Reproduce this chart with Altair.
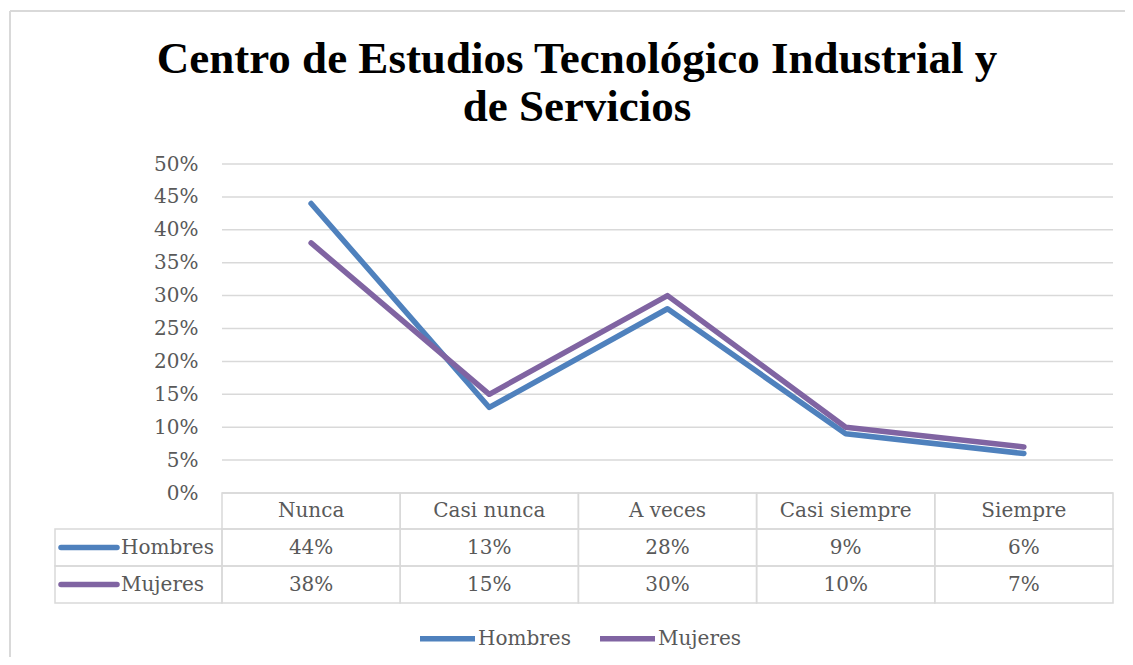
import altair as alt
import pandas as pd

# ---------------- data ----------------
categories = ["Nunca", "Casi nunca", "A veces", "Casi siempre", "Siempre"]
series = ["Hombres", "Mujeres"]
hombres = [0.44, 0.13, 0.28, 0.09, 0.06]
mujeres = [0.38, 0.15, 0.30, 0.10, 0.07]
y_ticks = [0.0, 0.05, 0.10, 0.15, 0.20, 0.25, 0.30, 0.35, 0.40, 0.45, 0.50]
colors = ["#4F81BD", "#8064A2"]
title_lines = ["Centro de Estudios Tecnológico Industrial y", "de Servicios"]

# ---------------- layout ----------------
COL_W = 178.2          # px per category column
LABEL_W = 167          # px of the table's label column
LINE_H = 329           # px of the 0..50% area
ROW_H = [36, 37, 37]   # px of table rows
TABLE_H = sum(ROW_H)
PLOT_W = 5 * COL_W + LABEL_W
PX = LINE_H / 0.5      # px per unit of y
x0 = -LABEL_W / COL_W
ymin = -TABLE_H / PX
TXT = "#595959"
GRID = "#D9D9D9"
FONT = "DejaVu Serif"

row_edges = [0.0]
for h in ROW_H:
    row_edges.append(row_edges[-1] - h / PX)
row_mid = [(row_edges[k] + row_edges[k + 1]) / 2 for k in range(3)]

values = {"Hombres": hombres, "Mujeres": mujeres}

lines_df = pd.DataFrame([
    {"series": s, "cat": c, "x": i + 0.5, "y": values[s][i]}
    for s in series for i, c in enumerate(categories)
])
grid_df = pd.DataFrame({"y": y_ticks, "x": [0] * len(y_ticks), "x2": [5] * len(y_ticks)})

cells = []
for i in range(5):
    cells.append({"x": i, "x2": i + 1, "y": row_edges[0], "y2": row_edges[1]})
for k, s in enumerate(series):
    r = k + 1
    cells.append({"x": x0, "x2": 0, "y": row_edges[r], "y2": row_edges[r + 1]})
    for i in range(5):
        cells.append({"x": i, "x2": i + 1, "y": row_edges[r], "y2": row_edges[r + 1]})
cells_df = pd.DataFrame(cells)

texts = []
for i, c in enumerate(categories):
    texts.append({"x": i + 0.5, "y": row_mid[0], "t": c})
for k, s in enumerate(series):
    for i in range(5):
        texts.append({"x": i + 0.5, "y": row_mid[k + 1], "t": f"{round(values[s][i] * 100)}%"})
texts_df = pd.DataFrame(texts)

labels_df = pd.DataFrame([
    {"series": s, "y": row_mid[k + 1], "xi": x0 + 6 / COL_W, "xi2": x0 + 62 / COL_W,
     "xt": x0 + 66 / COL_W}
    for k, s in enumerate(series)
])

xs = alt.Scale(domain=[x0, 5], nice=False, zero=False)
ys = alt.Scale(domain=[ymin, 0.5], nice=False, zero=False)
cs = alt.Scale(domain=series, range=colors)

y_axis = alt.Axis(
    values=y_ticks, format=".0%", grid=False, domain=False, ticks=False,
    labelPadding=24, offset=-LABEL_W, title=None,
    labelFont=FONT, labelFontSize=20, labelColor=TXT)
legend = alt.Legend(
    title=None, orient="none", legendX=362, legendY=444, direction="horizontal",
    symbolType="stroke", symbolSize=3025, symbolStrokeWidth=5.5,
    labelFont=FONT, labelFontSize=20, labelColor=TXT, labelOffset=0,
    columnPadding=18, padding=0)


def X(f):
    return alt.X(f, scale=xs, axis=None)


def Y(f):
    return alt.Y(f, scale=ys, axis=y_axis)


grid = alt.Chart(grid_df).mark_rule(color=GRID, strokeWidth=1.5).encode(
    x=X("x:Q"), x2="x2:Q", y=Y("y:Q"),
)

cells_l = alt.Chart(cells_df).mark_rect(fill=None, stroke=GRID, strokeWidth=1.5).encode(
    x=X("x:Q"), x2="x2:Q", y=Y("y:Q"), y2="y2:Q",
)

text_l = alt.Chart(texts_df).mark_text(font=FONT, fontSize=20, color=TXT,
                                       align="center", baseline="middle").encode(
    x=X("x:Q"), y=Y("y:Q"), text="t:N",
)

icons = alt.Chart(labels_df).mark_rule(strokeWidth=5.5, strokeCap="round").encode(
    x=X("xi:Q"), x2="xi2:Q", y=Y("y:Q"),
    color=alt.Color("series:N", scale=cs, legend=legend),
)
lab_text = alt.Chart(labels_df).mark_text(font=FONT, fontSize=20, color=TXT,
                                          align="left", baseline="middle").encode(
    x=X("xt:Q"), y=Y("y:Q"), text="series:N",
)

lines = alt.Chart(lines_df).mark_line(strokeWidth=5.5, strokeCap="round", strokeJoin="round").encode(
    x=X("x:Q"), y=Y("y:Q"),
    color=alt.Color("series:N", scale=cs, legend=legend),
    detail="series:N",
)

frame_df = pd.DataFrame({"a": [0]})
frame_left = alt.Chart(frame_df).mark_rule(color=GRID, strokeWidth=2).encode(
    x=alt.value(-45), y=alt.value(-153), y2=alt.value(520))
frame_top = alt.Chart(frame_df).mark_rule(color=GRID, strokeWidth=2).encode(
    x=alt.value(-45), x2=alt.value(1090), y=alt.value(-153))

chart = alt.layer(frame_left, frame_top, grid, cells_l, text_l, icons, lab_text, lines).properties(
    width=PLOT_W,
    height=LINE_H + TABLE_H,
    autosize=alt.AutoSizeParams(type="none"),
    padding={"left": 47, "top": 156, "right": 12, "bottom": 54},
    background="white",
    title=alt.TitleParams(text=title_lines, font="Liberation Serif", fontSize=45,
                          fontWeight="bold", color="black", anchor="middle",
                          offset=-120, lineHeight=48, dx=-7),
).configure_view(stroke=None)

chart.save("out.html", embed_options={"renderer": "svg", "actions": False})
